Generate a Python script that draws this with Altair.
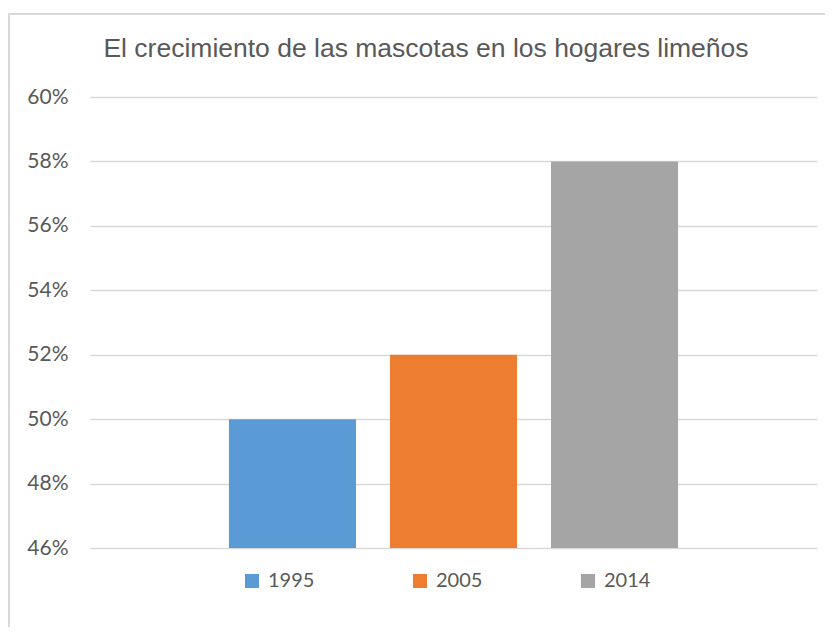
import altair as alt
import pandas as pd

years = ["1995", "2005", "2014"]
values = [0.50, 0.52, 0.58]
colors = ["#5B9BD5", "#ED7D31", "#A5A5A5"]
tick_values = [0.46, 0.48, 0.50, 0.52, 0.54, 0.56, 0.58, 0.60]
title_text = "El crecimiento de las mascotas en los hogares limeños"

df = pd.DataFrame({"year": years, "value": values})

bars = alt.Chart(df).mark_bar().encode(
    x=alt.X("year:N", axis=None, sort=years,
            scale=alt.Scale(paddingInner=0.211, paddingOuter=0.863)),
    y=alt.Y("value:Q",
            scale=alt.Scale(domain=[0.46, 0.60], zero=False, nice=False),
            axis=alt.Axis(values=tick_values, format=".0%", title=None,
                          domain=False, ticks=False, labelPadding=22,
                          labelFont="Lato", labelFontSize=21,
                          labelColor="#595959", grid=True,
                          gridColor="#d9d9d9", gridWidth=1.5)),
    y2=alt.datum(0.46),
    color=alt.Color("year:N",
                    scale=alt.Scale(domain=years, range=colors),
                    legend=alt.Legend(title=None, orient="none",
                                      direction="horizontal",
                                      legendX=152, legendY=474,
                                      symbolType="square", symbolSize=196,
                                      symbolStrokeWidth=0, labelOffset=6,
                                      columnPadding=95,
                                      labelFont="Lato", labelFontSize=20,
                                      labelColor="#595959")),
)

one = pd.DataFrame({"k": [0]})

frame = alt.Chart(one).mark_rect(
    filled=False, stroke="#d9d9d9", strokeWidth=2
).encode(
    x=alt.value(-81), x2=alt.value(760),
    y=alt.value(-83), y2=alt.value(560),
)

title = alt.Chart(one).mark_text(
    font="Liberation Sans", fontSize=26.5, color="#595959",
    align="center", baseline="alphabetic"
).encode(
    x=alt.value(336), y=alt.value(-40), text=alt.datum(title_text),
)

chart = alt.layer(frame, bars, title).properties(
    width=727, height=451,
    padding={"left": 82, "top": 89, "right": 8, "bottom": 79},
    autosize=alt.AutoSizeParams(type="none"),
    background="white",
).configure_view(stroke="transparent", strokeWidth=0)

chart.save("out.html", embed_options={"renderer": "svg", "actions": False})
